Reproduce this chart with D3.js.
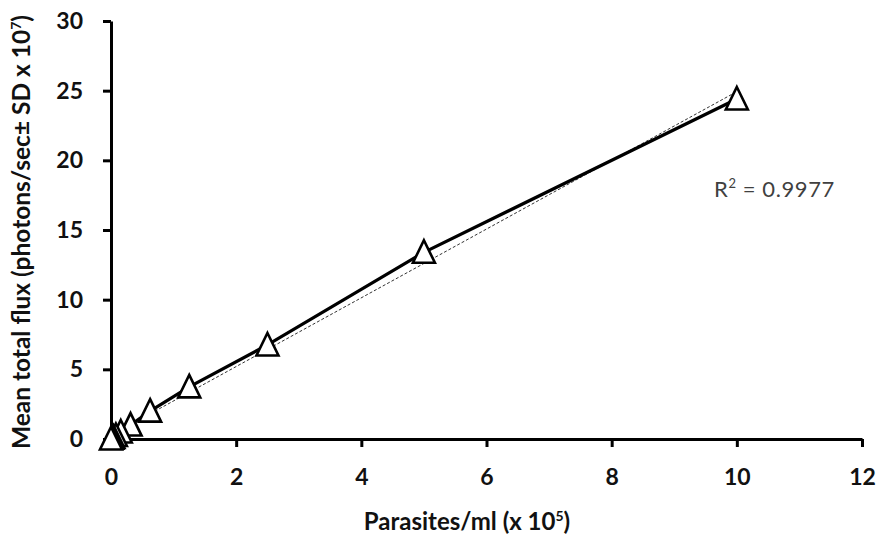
<!DOCTYPE html>
<html>
<head>
<meta charset="utf-8">
<script src="https://cdn.jsdelivr.net/npm/d3@7"></script>
<style>
  html, body { margin: 0; padding: 0; background: #fff; }
  svg { display: block; }
  text { font-family: Lato, "Open Sans", sans-serif; }
</style>
</head>
<body>
<svg id="chart" width="880" height="539"></svg>
<script>
// Two-fold dilution series of parasites (x 10^5 per ml) and mean total flux (x 10^7)
const parasites = [10, 5, 2.5, 1.25, 0.625, 0.3125, 0.156, 0.078, 0.039, 0.0195, 0];
const flux      = [24.4, 13.4, 6.75, 3.74, 2.0, 1.0, 0.5, 0.25, 0.12, 0.06, 0];
const xTicks = [0, 2, 4, 6, 8, 10, 12];
const yTicks = [0, 5, 10, 15, 20, 25, 30];
const r2Label = "0.9977";

const svg = d3.select("#chart");
const x = d3.scaleLinear().domain([0, 12]).range([111, 862]);
const y = d3.scaleLinear().domain([0, 30]).range([439, 21]);

// Least-squares trendline through the measured points
const n = parasites.length;
const mx = d3.mean(parasites), my = d3.mean(flux);
let sxy = 0, sxx = 0;
for (let i = 0; i < n; i++) { sxy += (parasites[i]-mx)*(flux[i]-my); sxx += (parasites[i]-mx)**2; }
const slope = sxy / sxx, intercept = my - slope * mx;

// Axes
const xAxis = d3.axisBottom(x).tickValues(xTicks).tickSize(8).tickSizeOuter(0).tickPadding(22);
const yAxis = d3.axisLeft(y).tickValues(yTicks).tickSize(8).tickSizeOuter(0).tickPadding(20);

const gx = svg.append("g").attr("transform", `translate(0,${y(0)})`).call(xAxis);
const gy = svg.append("g").attr("transform", `translate(${x(0)},0)`).call(yAxis);
[gx, gy].forEach(g => {
  g.select(".domain").attr("stroke", "#000").attr("stroke-width", 3);
  g.selectAll(".tick line").attr("stroke", "#000").attr("stroke-width", 3);
  g.selectAll(".tick text").attr("fill", "#111").attr("font-size", 23).attr("font-weight", "bold")
    .style("font-family", "Lato, 'Open Sans', sans-serif");
});

// Trendline (thin dashed)
const xs = [0, 10];
svg.append("line")
  .attr("x1", x(xs[0])).attr("y1", y(slope*xs[0]+intercept))
  .attr("x2", x(xs[1])).attr("y2", y(slope*xs[1]+intercept))
  .attr("stroke", "#333").attr("stroke-width", 1).attr("stroke-dasharray", "3,2");

// Connecting line
const pts = parasites.map((p, i) => [p, flux[i]]).sort((a, b) => a[0] - b[0]);
svg.append("path").datum(pts)
  .attr("fill", "none").attr("stroke", "#000").attr("stroke-width", 3.2)
  .attr("d", d3.line().x(d => x(d[0])).y(d => y(d[1])));

// Triangle markers (slightly taller than equilateral)
const triPath = "M0,-12L11,10.5L-11,10.5Z";
svg.append("g").selectAll("path").data(pts.slice().reverse()).join("path")
  .attr("transform", d => `translate(${x(d[0])},${y(d[1])})`)
  .attr("d", triPath)
  .attr("fill", "#fff").attr("stroke", "#000").attr("stroke-width", 2.6).attr("stroke-linejoin", "miter");

// R-squared label
const r2 = svg.append("text").attr("x", 714).attr("y", 197).attr("font-size", 22)
  .attr("letter-spacing", 0.6).attr("fill", "#404040");
r2.append("tspan").text("R");
r2.append("tspan").attr("font-size", 13).attr("dy", -9).text("2");
r2.append("tspan").attr("dy", 9).text(" = " + r2Label);

// Axis titles
const xt = svg.append("text").attr("x", 467).attr("y", 530).attr("text-anchor", "middle")
  .attr("font-size", 24).attr("font-weight", "bold").attr("fill", "#111");
xt.append("tspan").text("Parasites/ml (x 10");
xt.append("tspan").attr("font-size", 14).attr("dy", -9).text("5");
xt.append("tspan").attr("dy", 9).text(")");

const yt = svg.append("text").attr("transform", "translate(30,232) rotate(-90)").attr("text-anchor", "middle")
  .attr("font-size", 24.5).attr("font-weight", "bold").attr("fill", "#111");
yt.append("tspan").text("Mean total flux (photons/sec\u00b1 SD x 10");
yt.append("tspan").attr("font-size", 14).attr("dy", -9).text("7");
yt.append("tspan").attr("dy", 9).text(")");
</script>
</body>
</html>
